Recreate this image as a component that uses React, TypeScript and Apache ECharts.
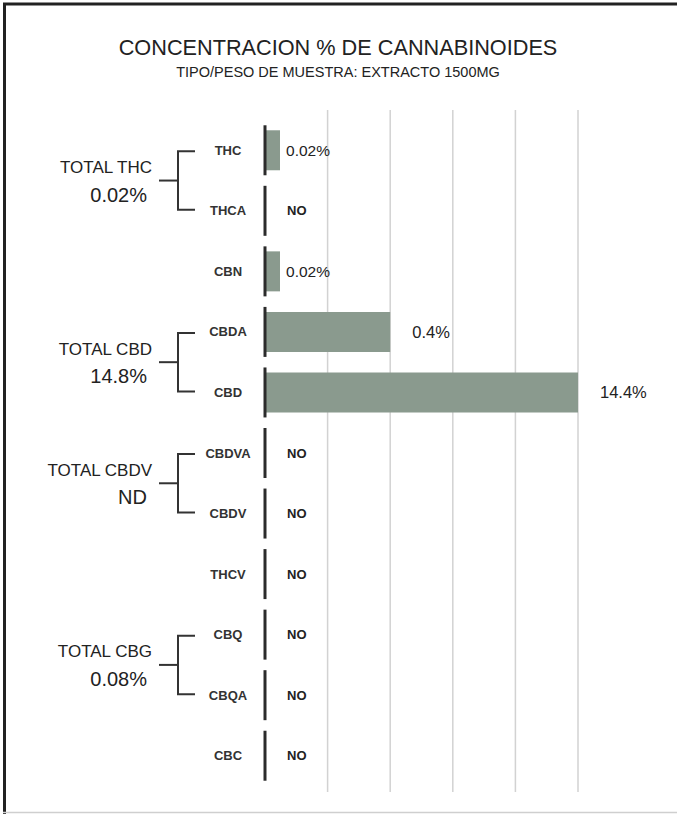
import React, { useEffect, useRef } from "react";
import * as echarts from "echarts";

const titleText = "CONCENTRACION % DE CANNABINOIDES";
const subtitleText = "TIPO/PESO DE MUESTRA: EXTRACTO 1500MG";

const categories = ["THC", "THCA", "CBN", "CBDA", "CBD", "CBDVA", "CBDV", "THCV", "CBQ", "CBQA", "CBC"];
// bar lengths as drawn in the picture, in grid-line units (the picture's bars are not to scale)
const barLengths = [0.24, 0, 0.24, 2, 5, 0, 0, 0, 0, 0, 0];
const valueLabels = ["0.02%", "NO", "0.02%", "0.4%", "14.4%", "NO", "NO", "NO", "NO", "NO", "NO"];
const gridValues = [1, 2, 3, 4, 5];

const groupNames = ["TOTAL THC", "TOTAL CBD", "TOTAL CBDV", "TOTAL CBG"];
const groupTotals = ["0.02%", "14.8%", "ND", "0.08%"];
const groupFirst = ["THC", "CBDA", "CBDVA", "CBQ"];
const groupLast = ["THCA", "CBD", "CBDV", "CBQA"];

const FONT = "'Liberation Sans', Arial, Helvetica, sans-serif";
const BAR_COLOR = "#8a9a8e";
const DARK = "#2b2b2b";

export default function App() {
  const ref = useRef<HTMLDivElement>(null);

  useEffect(() => {
    if (!ref.current) return;
    const chart = echarts.init(ref.current, null, { renderer: "svg" });

    const barData = barLengths.map((v, i) => {
      const isNo = valueLabels[i] === "NO";
      const small = v > 0 && v < 0.5;
      return {
        value: v,
        label: {
          show: true,
          position: "right",
          distance: small ? 6 : 22,
          formatter: valueLabels[i],
          fontFamily: FONT,
          fontSize: isNo ? 13 : v >= 1 ? 16.5 : 15.5,
          fontWeight: isNo ? "bold" : "normal",
          color: "#222",
        },
      };
    });

    const option: any = {
      animation: false,
      grid: { left: 265, right: 99, top: 120, bottom: 28 },
      xAxis: {
        type: "value",
        min: 0,
        max: 5,
        interval: 1,
        axisLine: { show: false },
        axisTick: { show: false },
        axisLabel: { show: false },
        splitLine: { show: false },
      },
      yAxis: {
        type: "category",
        inverse: true,
        data: categories,
        axisLine: { show: false },
        axisTick: { show: false },
        splitLine: { show: false },
        axisLabel: {
          margin: 37,
          align: "center",
          fontFamily: FONT,
          fontSize: 13,
          fontWeight: "bold",
          color: "#333",
        },
      },
      series: [
        {
          type: "bar",
          data: barData,
          barWidth: 40,
          itemStyle: { color: BAR_COLOR },
          z: 2,
        },
        {
          type: "custom",
          data: categories.map((_, i) => [0, i]),
          encode: { x: 0, y: 1 },
          z: 3,
          renderItem: (params: any, api: any) => {
            const p = api.coord([0, api.value(1)]);
            return {
              type: "line",
              shape: { x1: p[0], y1: p[1] - 25, x2: p[0], y2: p[1] + 25 },
              style: { stroke: DARK, lineWidth: 3 },
            };
          },
        },
      ],
    };
    chart.setOption(option);

    const graphics: any[] = [
      { type: "line", shape: { x1: 3, y1: 4, x2: 677, y2: 4 }, style: { stroke: "#222", lineWidth: 3 } },
      { type: "line", shape: { x1: 4.5, y1: 3, x2: 4.5, y2: 814 }, style: { stroke: "#222", lineWidth: 3 } },
      { type: "line", shape: { x1: 3, y1: 812.5, x2: 677, y2: 812.5 }, style: { stroke: "#cfcfcf", lineWidth: 1.5 } },
      {
        type: "text",
        x: 338,
        y: 47,
        style: { text: titleText, fontFamily: FONT, fontSize: 21.7, fill: "#222", align: "center", verticalAlign: "middle" },
      },
      {
        type: "text",
        x: 338,
        y: 72,
        style: { text: subtitleText, fontFamily: FONT, fontSize: 14.5, fill: "#222", align: "center", verticalAlign: "middle" },
      },
    ];

    // vertical grid lines at the value axis positions, extended a little above and below the rows
    gridValues.forEach((v) => {
      const x = chart.convertToPixel({ xAxisIndex: 0 }, v) as number;
      graphics.push({
        type: "line",
        z: -1,
        shape: { x1: x, y1: 110, x2: x, y2: 792 },
        style: { stroke: "#d2d2d2", lineWidth: 1.5 },
      });
    });

    groupNames.forEach((name, i) => {
      const y1 = chart.convertToPixel({ yAxisIndex: 0 }, categories.indexOf(groupFirst[i])) as number;
      const y2 = chart.convertToPixel({ yAxisIndex: 0 }, categories.indexOf(groupLast[i])) as number;
      const mid = (y1 + y2) / 2;
      const lineStyle = { stroke: "#333", lineWidth: 2 };
      graphics.push(
        { type: "polyline", shape: { points: [[195, y1 + 1], [178, y1 + 1], [178, y2 - 1], [195, y2 - 1]] }, style: { ...lineStyle, fill: "none" } },
        { type: "line", shape: { x1: 159, y1: mid, x2: 178, y2: mid }, style: lineStyle },
        {
          type: "text",
          x: 152,
          y: mid - 13,
          style: { text: name, fontFamily: FONT, fontSize: 17, fill: "#222", align: "right", verticalAlign: "middle" },
        },
        {
          type: "text",
          x: 147,
          y: mid + 14,
          style: { text: groupTotals[i], fontFamily: FONT, fontSize: 20, fill: "#222", align: "right", verticalAlign: "middle" },
        }
      );
    });

    chart.setOption({ graphic: graphics });

    return () => chart.dispose();
  }, []);

  return (
    <div
      ref={ref}
      style={{ position: "fixed", left: 0, top: 0, width: 677, height: 814, background: "#fff" }}
    />
  );
}
